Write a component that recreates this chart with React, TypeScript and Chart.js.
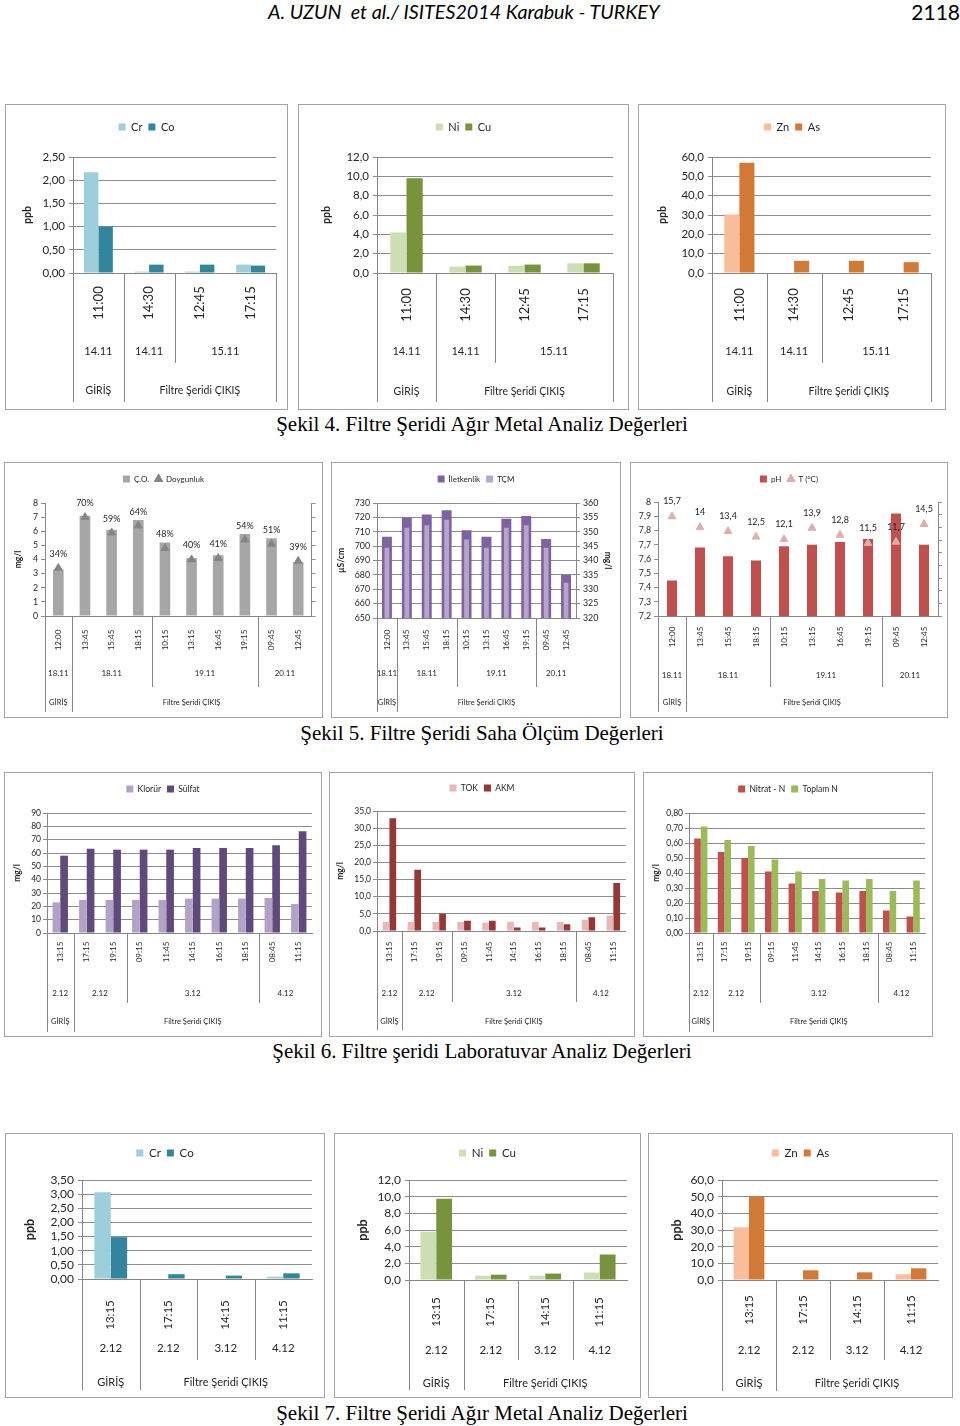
import React, { useEffect, useRef } from "react";
import { Chart, registerables } from "chart.js";

Chart.register(...registerables);

/* ================= DATA ================= */
/* Şekil 4 – Filtre Şeridi Ağır Metal (14–15.11) */
const fig4Times = ["11:00", "14:30", "12:45", "17:15"];
const fig4Dates: [string, number][] = [["14.11", 1], ["14.11", 1], ["15.11", 2]];
const fig4Sites: [string, number][] = [["GİRİŞ", 1], ["Filtre Şeridi ÇIKIŞ", 3]];
const fig4Cr = [2.17, 0.03, 0.03, 0.18];
const fig4Co = [1.0, 0.18, 0.18, 0.16];
const fig4Ni = [4.2, 0.66, 0.73, 1.0];
const fig4Cu = [9.8, 0.77, 0.87, 1.0];
const fig4Zn = [30.3, 0, 0, 0];
const fig4As = [57.0, 6.3, 6.3, 5.6];
const fig4CrCoAxis = [0, 2.5, 0.5];
const fig4NiCuAxis = [0, 12, 2];
const fig4ZnAsAxis = [0, 60, 10];

/* Şekil 5 – Saha Ölçüm (18–20.11) */
const fig5Times = ["12:00", "13:45", "15:45", "18:15", "10:15", "13:15", "16:45", "19:15", "09:45", "12:45"];
const fig5Dates: [string, number][] = [["18.11", 1], ["18.11", 3], ["19.11", 4], ["20.11", 2]];
const fig5Sites: [string, number][] = [["GİRİŞ", 1], ["Filtre Şeridi ÇIKIŞ", 9]];
const fig5CO = [3.3, 7.1, 6.1, 6.8, 5.2, 4.1, 4.3, 5.8, 5.5, 3.8];
const fig5Doygunluk = [34, 70, 59, 64, 48, 40, 41, 54, 51, 39];
const fig5Iletkenlik = [706.5, 720, 722, 725, 711, 706.5, 719, 721, 705, 680];
const fig5TCM = [344.4, 351.4, 352.3, 354.2, 347.3, 344.4, 351.4, 352.3, 344.4, 332.3];
const fig5PH = [7.45, 7.68, 7.62, 7.59, 7.69, 7.7, 7.72, 7.74, 7.92, 7.7];
const fig5T = [15.7, 14, 13.4, 12.5, 12.1, 13.9, 12.8, 11.5, 11.7, 14.5];
const fig5COAxis = [0, 8, 1];
const fig5DoygunlukAxis = [0, 80, 10];
const fig5IletkenlikAxis = [650, 730, 10];
const fig5TCMAxis = [320, 360, 5];
const fig5PHAxis = [7.2, 8, 0.1];
const fig5TAxis = [0, 18, 2];

/* Şekil 6 – Laboratuvar Analiz (2–4.12) */
const fig6Times = ["13:15", "17:15", "19:15", "09:15", "11:45", "14:15", "16:15", "18:15", "08:45", "11:15"];
const fig6Dates: [string, number][] = [["2.12", 1], ["2.12", 2], ["3.12", 5], ["4.12", 2]];
const fig6Sites: [string, number][] = [["GİRİŞ", 1], ["Filtre Şeridi ÇIKIŞ", 9]];
const fig6Klorur = [23, 24.8, 24.8, 24.8, 24.8, 25.8, 25.8, 25.8, 26.3, 21.8];
const fig6Sulfat = [58, 63.2, 62.5, 62.5, 62.5, 63.8, 63.8, 63.8, 65.8, 76.3];
const fig6TOK = [2.6, 2.6, 2.6, 2.6, 2.4, 2.7, 2.7, 2.6, 3.3, 4.5];
const fig6AKM = [32.9, 17.9, 5.0, 3.0, 3.0, 1.0, 1.0, 2.0, 4.0, 14.0];
const fig6Nitrat = [0.63, 0.54, 0.5, 0.41, 0.33, 0.28, 0.27, 0.28, 0.15, 0.11];
const fig6ToplamN = [0.71, 0.62, 0.58, 0.49, 0.41, 0.36, 0.35, 0.36, 0.28, 0.35];
const fig6KlorurAxis = [0, 90, 10];
const fig6TOKAxis = [0, 35, 5];
const fig6NitratAxis = [0, 0.8, 0.1];

/* Şekil 7 – Ağır Metal (2–4.12) */
const fig7Times = ["13:15", "17:15", "14:15", "11:15"];
const fig7Dates: [string, number][] = [["2.12", 1], ["2.12", 1], ["3.12", 1], ["4.12", 1]];
const fig7Sites: [string, number][] = [["GİRİŞ", 1], ["Filtre Şeridi ÇIKIŞ", 3]];
const fig7Cr = [3.07, 0, 0, 0.08];
const fig7Co = [1.48, 0.17, 0.12, 0.2];
const fig7Ni = [5.8, 0.52, 0.52, 0.89];
const fig7Cu = [9.75, 0.64, 0.77, 3.06];
const fig7Zn = [31.6, 0, 0, 3.4];
const fig7As = [50.1, 5.8, 4.6, 7.0];
const fig7CrCoAxis = [0, 3.5, 0.5];
const fig7NiCuAxis = [0, 12, 2];
const fig7ZnAsAxis = [0, 60, 10];

/* ================= STYLE ================= */
const FAM = "Lato, 'Open Sans', 'DejaVu Sans', sans-serif";
const TXT = "#262626";
const AXC = "#868686";
const GRIDC = "#8c8c8c";

type Group = [string, number];
interface AxisSpec { range: number[]; dec: number | null; grid?: boolean; labels?: boolean; title?: string; titleX?: number; }
interface DS { label: string; data: number[]; color: string; kind?: "bar" | "tri"; axis?: "y" | "y1"; width?: number; }
interface Fs { legend: number; tick: number; time: number; date: number; site: number; title: number; label?: number; tickPad: number; }
interface Spec {
  box: number[]; plot: number[]; legendY: number;
  times: string[]; dates: Group[]; sites: Group[];
  series: DS[]; y: AxisSpec; y1?: AxisSpec;
  rows: number[]; fs: Fs; cat?: number; overlay?: boolean; rightEdge?: boolean;
  pointLegend?: boolean; labelFmt?: (v: number) => string; labelOff?: number;
}

const FS1: Fs = { legend: 11, tick: 11.5, time: 13, date: 11, site: 10.5, title: 10.5, tickPad: 4 };
const FS2: Fs = { legend: 8, tick: 8.8, time: 8, date: 8, site: 7.5, title: 8.5, label: 9, tickPad: 3 };
const FS3: Fs = { legend: 8.5, tick: 8.5, time: 8, date: 8, site: 7.5, title: 8.5, tickPad: 2 };
const FS4: Fs = { legend: 11.5, tick: 12, time: 11.5, date: 11.5, site: 11, title: 12.5, tickPad: 4 };

const comma = (v: number) => String(v).replace(".", ",");

const SPECS: Spec[] = [
  {
    box: [5, 104, 288, 410], plot: [73, 157, 276, 273], legendY: 127,
    times: fig4Times, dates: fig4Dates, sites: fig4Sites,
    series: [{ label: "Cr", data: fig4Cr, color: "#9dcedb" }, { label: "Co", data: fig4Co, color: "#31859c" }],
    y: { range: fig4CrCoAxis, dec: 2, grid: true, title: "ppb", titleX: 28 },
    rows: [303, 351, 363, 391, 402], fs: FS1, cat: 0.57, rightEdge: true,
  },
  {
    box: [298, 104, 629, 410], plot: [377, 157, 613, 273], legendY: 127,
    times: fig4Times, dates: fig4Dates, sites: fig4Sites,
    series: [{ label: "Ni", data: fig4Ni, color: "#cddeb2" }, { label: "Cu", data: fig4Cu, color: "#77933c" }],
    y: { range: fig4NiCuAxis, dec: 1, grid: true, title: "ppb", titleX: 327 },
    rows: [305, 351, 363, 392, 402], fs: FS1, cat: 0.55, rightEdge: true,
  },
  {
    box: [638, 104, 946, 410], plot: [712, 157, 931, 273], legendY: 127,
    times: fig4Times, dates: fig4Dates, sites: fig4Sites,
    series: [{ label: "Zn", data: fig4Zn, color: "#f8bd9b" }, { label: "As", data: fig4As, color: "#d27a35" }],
    y: { range: fig4ZnAsAxis, dec: 1, grid: true, title: "ppb", titleX: 663 },
    rows: [305, 351, 363, 392, 402], fs: FS1, cat: 0.55, rightEdge: true,
  },
  {
    box: [4, 462, 323, 718], plot: [45, 503, 312, 616], legendY: 479,
    times: fig5Times, dates: fig5Dates, sites: fig5Sites,
    series: [
      { label: "Ç.O.", data: fig5CO, color: "#a6a6a6" },
      { label: "Doygunluk", data: fig5Doygunluk, color: "#848484", kind: "tri", axis: "y1" },
    ],
    y: { range: fig5COAxis, dec: 0, grid: false, title: "mg/l", titleX: 18 },
    y1: { range: fig5DoygunlukAxis, dec: 0, labels: false },
    rows: [640, 673, 687, 703, 712], fs: FS2, cat: 0.4, pointLegend: true,
    labelFmt: (v) => v + "%", labelOff: 14,
  },
  {
    box: [331, 462, 621, 718], plot: [377, 503, 576, 618], legendY: 479,
    times: fig5Times, dates: fig5Dates, sites: fig5Sites,
    series: [
      { label: "İletkenlik", data: fig5Iletkenlik, color: "#7f62a1", width: 0.5 },
      { label: "TÇM", data: fig5TCM, color: "#b6a5cb", axis: "y1", width: 0.24 },
    ],
    y: { range: fig5IletkenlikAxis, dec: 0, grid: true, title: "µS/cm", titleX: 341 },
    y1: { range: fig5TCMAxis, dec: 0, labels: true, title: "mg/l", titleX: 608 },
    rows: [640, 673, 687, 703, 712], fs: FS2, overlay: true,
  },
  {
    box: [630, 462, 948, 718], plot: [658, 502, 938, 616], legendY: 479,
    times: fig5Times, dates: fig5Dates, sites: fig5Sites,
    series: [
      { label: "pH", data: fig5PH, color: "#c0504d" },
      { label: "T (°C)", data: fig5T, color: "#dcaeac", kind: "tri", axis: "y1" },
    ],
    y: { range: fig5PHAxis, dec: null, grid: false },
    y1: { range: fig5TAxis, dec: 0, labels: false },
    rows: [637, 675, 687, 703, 712], fs: FS2, cat: 0.36, pointLegend: true,
    labelFmt: comma, labelOff: 15,
  },
  {
    box: [4, 772, 322, 1037], plot: [47, 813, 312, 933], legendY: 789,
    times: fig6Times, dates: fig6Dates, sites: fig6Sites,
    series: [{ label: "Klorür", data: fig6Klorur, color: "#b3a2c7" }, { label: "Sülfat", data: fig6Sulfat, color: "#604a7b" }],
    y: { range: fig6KlorurAxis, dec: 0, grid: true, title: "mg/l", titleX: 17 },
    rows: [952, 993, 1003, 1022, 1032], fs: FS3, cat: 0.58,
  },
  {
    box: [329, 772, 635, 1037], plot: [377, 811, 627, 931], legendY: 788,
    times: fig6Times, dates: fig6Dates, sites: fig6Sites,
    series: [{ label: "TOK", data: fig6TOK, color: "#e6b9b8" }, { label: "AKM", data: fig6AKM, color: "#953735" }],
    y: { range: fig6TOKAxis, dec: 1, grid: true, title: "mg/l", titleX: 340 },
    rows: [952, 993, 1002, 1022, 1030], fs: FS3, cat: 0.54,
  },
  {
    box: [643, 772, 933, 1037], plot: [689, 813, 925, 933], legendY: 789,
    times: fig6Times, dates: fig6Dates, sites: fig6Sites,
    series: [{ label: "Nitrat - N", data: fig6Nitrat, color: "#c0504d" }, { label: "Toplam N", data: fig6ToplamN, color: "#9bbb59" }],
    y: { range: fig6NitratAxis, dec: 2, grid: true, title: "mg/l", titleX: 656 },
    rows: [952, 993, 1003, 1022, 1032], fs: FS3, cat: 0.56,
  },
  {
    box: [5, 1133, 325, 1398], plot: [82, 1180, 312, 1279], legendY: 1153,
    times: fig7Times, dates: fig7Dates, sites: fig7Sites,
    series: [{ label: "Cr", data: fig7Cr, color: "#9dcedb" }, { label: "Co", data: fig7Co, color: "#31859c" }],
    y: { range: fig7CrCoAxis, dec: 2, grid: true, title: "ppb", titleX: 30 },
    rows: [1315, 1348, 1360, 1382, 1390], fs: FS4, cat: 0.57,
  },
  {
    box: [334, 1133, 641, 1398], plot: [409, 1180, 627, 1280], legendY: 1153,
    times: fig7Times, dates: fig7Dates, sites: fig7Sites,
    series: [{ label: "Ni", data: fig7Ni, color: "#cddeb2" }, { label: "Cu", data: fig7Cu, color: "#77933c" }],
    y: { range: fig7NiCuAxis, dec: 1, grid: true, title: "ppb", titleX: 363 },
    rows: [1312, 1350, 1360, 1383, 1390], fs: FS4, cat: 0.58,
  },
  {
    box: [648, 1133, 953, 1398], plot: [722, 1180, 938, 1280], legendY: 1153,
    times: fig7Times, dates: fig7Dates, sites: fig7Sites,
    series: [{ label: "Zn", data: fig7Zn, color: "#f8bd9b" }, { label: "As", data: fig7As, color: "#d27a35" }],
    y: { range: fig7ZnAsAxis, dec: 1, grid: true, title: "ppb", titleX: 677 },
    rows: [1310, 1350, 1360, 1383, 1391], fs: FS4, cat: 0.57,
  },
];

const fmt = (dec: number | null) => (v: any) => {
  const n = Number(v);
  const s = dec === null ? String(Math.round(n * 1000) / 1000) : n.toFixed(dec);
  return s.replace(".", ",");
};

function ExcelChart({ spec }: { spec: Spec }) {
  const ref = useRef<HTMLCanvasElement | null>(null);
  const [x0, y0, x1, y1] = spec.box;
  const W = x1 - x0 - 2;
  const H = y1 - y0 - 2;

  useEffect(() => {
    const cl = x0 + 1, ct = y0 + 1, cr = cl + W, cb = ct + H;
    const [pl, pt, pr, pb] = spec.plot;
    const fs = spec.fs;
    const mctx = document.createElement("canvas").getContext("2d")!;
    mctx.font = `${fs.time}px ${FAM}`;
    const tw = Math.max(...spec.times.map((t) => mctx.measureText(t).width));
    const timePad = Math.max(0, spec.rows[0] - pb - tw / 2);
    const LP = 6;
    const padTop = Math.max(0, spec.legendY - ct - LP - fs.legend / 2);
    const spacer = Math.max(1, pt - spec.legendY - fs.legend / 2 - 10);

    const datasets: any[] = spec.series.map((s, i) =>
      s.kind === "tri"
        ? {
            type: "line", label: s.label, data: s.data, showLine: false,
            pointStyle: "triangle", pointRadius: 4.5, pointHoverRadius: 4.5,
            pointBackgroundColor: s.color, pointBorderColor: s.color, pointBorderWidth: 1,
            backgroundColor: s.color, borderColor: s.color, borderWidth: 1,
            yAxisID: s.axis || "y", order: 1,
          }
        : {
            type: "bar", label: s.label, data: s.data, backgroundColor: s.color, borderWidth: 0,
            categoryPercentage: spec.overlay ? 1 : spec.cat ?? 0.56,
            barPercentage: s.width ?? 1, grouped: !spec.overlay,
            yAxisID: s.axis || "y", order: spec.overlay && i === 0 ? 3 : 2, pointStyle: "rect",
          }
    );

    const yAxis = (a: AxisSpec, pos: "left" | "right", width: number) => ({
      type: "linear", position: pos, min: a.range[0], max: a.range[1],
      ticks: {
        stepSize: a.range[2], callback: fmt(a.dec), display: a.labels !== false, autoSkip: false,
        padding: fs.tickPad, color: TXT, font: { size: fs.tick, family: FAM },
      },
      grid: { display: true, drawOnChartArea: !!a.grid, drawTicks: true, tickLength: 4, color: GRIDC, lineWidth: 1 },
      border: { display: true, color: AXC, width: 1 },
      title: a.title
        ? {
            display: true, text: a.title, color: TXT,
            font: { size: fs.title, weight: "bold", family: FAM, lineHeight: 1 },
            padding: {
              top: pos === "left" ? (a.titleX ?? 0) - cl - fs.title / 2 : cr - (a.titleX ?? 0) - fs.title / 2,
              bottom: 0,
            },
          }
        : { display: false },
      afterFit: (s: any) => { s.width = width; },
    });

    const scales: any = {
      x: {
        type: "category", offset: true,
        grid: { display: false, drawTicks: false },
        border: { display: true, color: AXC, width: 1 },
        ticks: {
          autoSkip: false, minRotation: 90, maxRotation: 90, padding: timePad,
          color: TXT, font: { size: fs.time, family: FAM },
        },
        afterFit: (s: any) => { s.height = cb - pb; },
      },
      y: yAxis(spec.y, "left", pl - cl),
    };
    scales.y1 = spec.y1
      ? yAxis(spec.y1, "right", cr - pr)
      : {
          type: "linear", position: "right", display: true,
          ticks: { display: false }, grid: { display: false, drawTicks: false }, border: { display: false },
          afterFit: (s: any) => { s.width = cr - pr; },
        };

    const multiLevel = {
      id: "multiLevel",
      afterDraw(chart: any) {
        const { ctx, chartArea: a } = chart;
        const x = chart.scales.x;
        const n = spec.times.length;
        const edge = (i: number) =>
          i <= 0 ? a.left : i >= n ? a.right : (x.getPixelForValue(i - 1) + x.getPixelForValue(i)) / 2;
        const [, dY, dEnd, sY, fEnd] = spec.rows.map((r) => r - ct);
        ctx.save();
        ctx.strokeStyle = AXC;
        ctx.lineWidth = 1;
        const vline = (px: number, y2: number) => {
          const xx = Math.round(px) + 0.5;
          ctx.beginPath();
          ctx.moveTo(xx, a.bottom);
          ctx.lineTo(xx, y2);
          ctx.stroke();
        };
        const siteB = new Set<number>();
        let k = 0;
        spec.sites.forEach(([, c]) => { siteB.add(k); k += c; });
        siteB.add(k);
        siteB.forEach((b) => { if (b < n || spec.rightEdge) vline(edge(b), fEnd); });
        k = 0;
        spec.dates.forEach(([, c]) => { k += c; if (!siteB.has(k)) vline(edge(k), dEnd); });
        ctx.fillStyle = TXT;
        ctx.textAlign = "center";
        ctx.textBaseline = "middle";
        ctx.font = `${fs.date}px ${FAM}`;
        k = 0;
        spec.dates.forEach(([t, c]) => { ctx.fillText(t, (edge(k) + edge(k + c)) / 2, dY); k += c; });
        ctx.font = `${fs.site}px ${FAM}`;
        k = 0;
        spec.sites.forEach(([t, c]) => { ctx.fillText(t, (edge(k) + edge(k + c)) / 2, sY); k += c; });
        ctx.restore();
      },
    };

    const pointLabels = {
      id: "pointLabels",
      afterDatasetsDraw(chart: any) {
        if (!spec.labelFmt) return;
        const idx = spec.series.findIndex((s) => s.kind === "tri");
        if (idx < 0) return;
        const meta = chart.getDatasetMeta(idx);
        const ctx = chart.ctx;
        ctx.save();
        ctx.font = `${fs.label ?? 9}px ${FAM}`;
        ctx.fillStyle = TXT;
        ctx.textAlign = "center";
        ctx.textBaseline = "middle";
        meta.data.forEach((el: any, i: number) => {
          ctx.fillText(spec.labelFmt!(spec.series[idx].data[i]), el.x, el.y - (spec.labelOff ?? 14));
        });
        ctx.restore();
      },
    };

    const chart = new Chart(ref.current!, {
      type: "bar",
      data: { labels: spec.times, datasets },
      options: {
        responsive: false,
        maintainAspectRatio: false,
        animation: false,
        devicePixelRatio: 1,
        layout: { padding: { top: padTop, left: 0, right: 0, bottom: 0 } },
        plugins: {
          tooltip: { enabled: false },
          legend: {
            display: true, position: "top", align: "center", fullSize: true,
            labels: {
              boxWidth: 7, boxHeight: 7, padding: LP, color: TXT,
              font: { size: fs.legend, family: FAM },
              usePointStyle: !!spec.pointLegend,
              sort: (a: any, b: any) => a.datasetIndex - b.datasetIndex,
            },
          },
          subtitle: {
            display: true, text: " ", position: "top", weight: 500, fullSize: true,
            padding: 0, font: { size: spacer, lineHeight: 1 },
          },
        },
        scales,
      } as any,
      plugins: [multiLevel, pointLabels],
    } as any);
    return () => chart.destroy();
  }, [spec]);

  return (
    <div
      style={{
        position: "absolute", left: x0, top: y0, width: x1 - x0, height: y1 - y0,
        border: "1px solid #a3a3a3", boxSizing: "border-box", background: "#fff",
      }}
    >
      <canvas ref={ref} width={W} height={H} style={{ display: "block", width: W, height: H }} />
    </div>
  );
}

const CAPTIONS: [string, number][] = [
  ["Şekil 4. Filtre Şeridi Ağır Metal Analiz Değerleri", 424],
  ["Şekil 5. Filtre Şeridi Saha Ölçüm Değerleri", 733],
  ["Şekil 6. Filtre şeridi Laboratuvar Analiz Değerleri", 1051],
  ["Şekil 7. Filtre Şeridi Ağır Metal Analiz Değerleri", 1413],
];

export default function App() {
  return (
    <div style={{ position: "absolute", left: 0, top: 0, width: 960, height: 1426, background: "#fff", overflow: "hidden" }}>
      <div
        style={{
          position: "absolute", left: 268, top: 0, whiteSpace: "pre", fontFamily: FAM,
          fontStyle: "italic", fontSize: 19.7, lineHeight: "24px", color: "#000",
        }}
      >
        {"A. UZUN  et al./ ISITES2014 Karabuk - TURKEY"}
      </div>
      <div
        style={{
          position: "absolute", right: 0, top: 0, fontFamily: FAM, fontSize: 21,
          lineHeight: "24px", color: "#000",
        }}
      >
        2118
      </div>
      {SPECS.map((s, i) => (
        <ExcelChart key={i} spec={s} />
      ))}
      {CAPTIONS.map(([t, y]) => (
        <div
          key={t}
          style={{
            position: "absolute", left: 0, width: 964, top: y - 13, lineHeight: "26px",
            textAlign: "center", fontFamily: "'Liberation Serif', 'Times New Roman', serif",
            fontSize: 21, color: "#000",
          }}
        >
          {t}
        </div>
      ))}
    </div>
  );
}
